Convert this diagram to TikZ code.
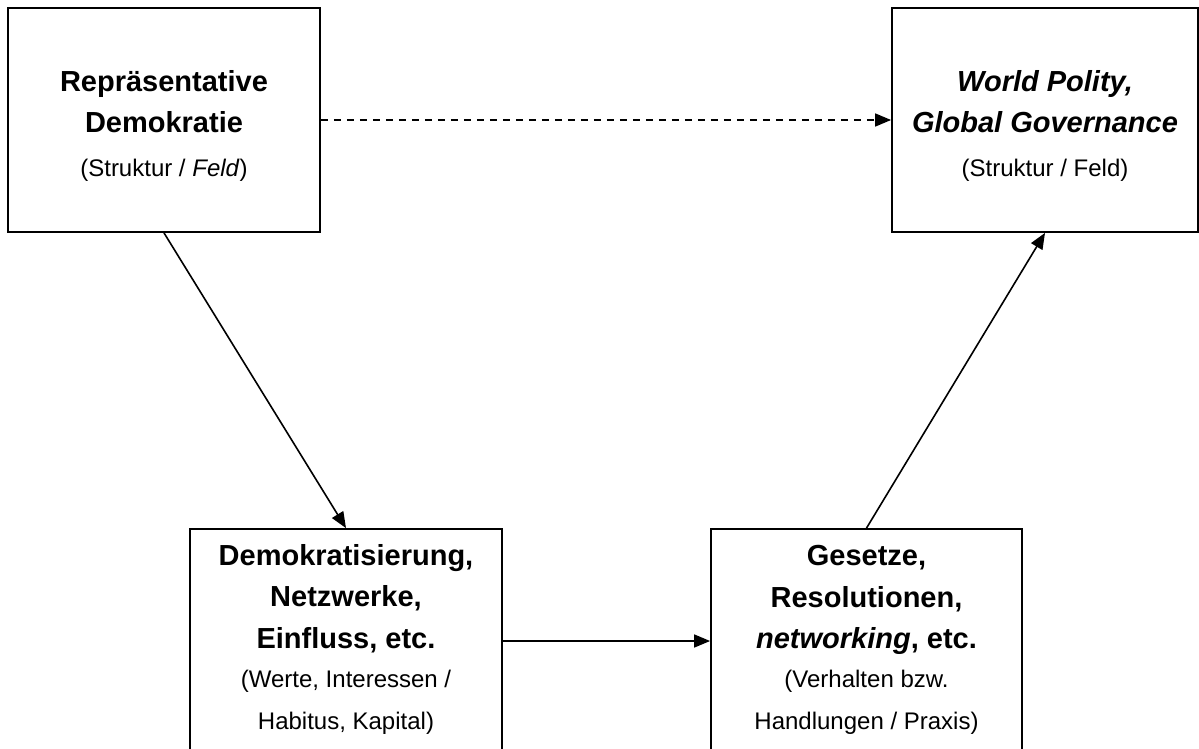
\documentclass[tikz,border=0pt]{standalone}
\usepackage{fontspec}
\setmainfont{Liberation Sans}
\usetikzlibrary{arrows.meta}
\begin{document}
\begin{tikzpicture}[x=1pt,y=-1pt,
  box/.style={draw,line width=1.8pt,minimum width=#1,minimum height=224pt,inner sep=0pt},
  head/.style={anchor=base,inner sep=0pt,font=\fontsize{29}{35}\selectfont\bfseries},
  sub/.style={anchor=base,inner sep=0pt,font=\fontsize{24}{29}\selectfont},
  link/.style={line width=1.6pt,-{Triangle[length=16pt,width=13pt]}},
]
\useasboundingbox (0,0) rectangle (1199,749);
\clip (0,0) rectangle (1199,749);
% boxes
\node[box=312pt] (A) at (164,120) {};
\node[box=306pt] (B) at (1045,120) {};
\node[box=312pt] (C) at (346,641) {};
\node[box=311pt] (D) at (866.5,641) {};
% texts in A
\node[head] (a1) at (164,92) {Repräsentative};
\node[head] (a2) at (164,133) {Demokratie};
\node[sub]  (a3) at (164,176) {(Struktur / \textit{Feld})};
% texts in B
\node[head] (b1) at (1045,92) {\itshape World Polity,};
\node[head] (b2) at (1045,133) {\itshape Global Governance};
\node[sub]  (b3) at (1045,176) {(Struktur / Feld)};
% texts in C
\node[head] (c1) at (346,565.5) {Demokratisierung,};
\node[head] (c2) at (346,606) {Netzwerke,};
\node[head] (c3) at (346,648) {Einfluss, etc.};
\node[sub]  (c4) at (346,687) {(Werte, Interessen /};
\node[sub]  (c5) at (346,729) {Habitus, Kapital)};
% texts in D
\node[head] (d1) at (866.5,565.5) {Gesetze,};
\node[head] (d2) at (866.5,607) {Resolutionen,};
\node[head] (d3) at (866.5,648) {\textit{networking}, etc.};
\node[sub]  (d4) at (866.5,687) {(Verhalten bzw.};
\node[sub]  (d5) at (866.5,729) {Handlungen / Praxis)};
% connectors
\draw[link,dash pattern=on 7pt off 6pt] (A.east) -- (B.west);
\draw[link] (A.south) -- (C.north);
\draw[link] (C.east) -- (D.west);
\draw[link] (D.north) -- (B.south);
\end{tikzpicture}
\end{document}
